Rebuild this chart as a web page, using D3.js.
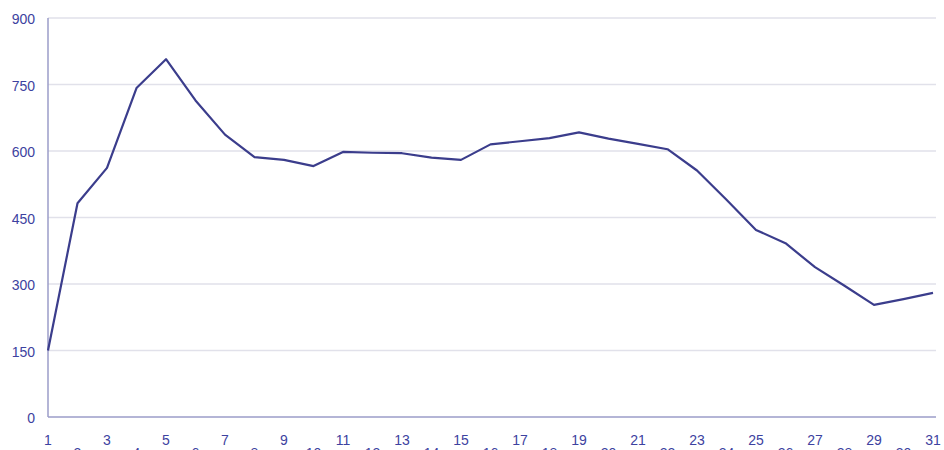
<!DOCTYPE html>
<html>
<head>
<meta charset="utf-8">
<script src="https://cdn.jsdelivr.net/npm/d3@7"></script>
<style>
  body { margin: 0; background: #fff; }
  svg { display: block; }
  text { font-family: "Liberation Sans", Arial, sans-serif; font-size: 14px; fill: #3d42a0; }
</style>
</head>
<body>
<svg id="chart" width="944" height="450"></svg>
<script>
// days of the month and the daily values
var days = d3.range(1, 32);
var values = [150, 482, 562, 742, 807, 714, 637, 586, 580, 566,
              598, 596, 595, 585, 580, 615, 622, 629, 642, 628,
              616, 604, 556, 490, 422, 392, 338, 296, 253, 266, 280];
var yTicks = [0, 150, 300, 450, 600, 750, 900];

var svg = d3.select('#chart');
var plotLeft = 48, plotRight = 936, plotTop = 18, plotBottom = 417;

var x = d3.scaleLinear().domain([1, 31]).range([plotLeft, 933]);
var y = d3.scaleLinear().domain([0, 900]).range([plotBottom, plotTop]);

// gridlines
svg.append('g')
    .selectAll('line')
    .data(yTicks.filter(function (d) { return d > 0; }))
    .enter().append('line')
    .attr('x1', plotLeft).attr('x2', plotRight)
    .attr('y1', function (d) { return y(d); })
    .attr('y2', function (d) { return y(d); })
    .attr('stroke', '#e1e1ea')
    .attr('stroke-width', 1.5);

// y labels
svg.append('g')
    .selectAll('text')
    .data(yTicks)
    .enter().append('text')
    .attr('x', 35)
    .attr('y', function (d) { return y(d) + 6; })
    .attr('text-anchor', 'end')
    .text(function (d) { return d; });

// x labels, odd on the first row, even on a second row (cut by the frame)
svg.append('g')
    .selectAll('text')
    .data(days)
    .enter().append('text')
    .attr('x', function (d) { return x(d); })
    .attr('y', function (d) { return d % 2 ? 445 : 458; })
    .attr('text-anchor', 'middle')
    .text(function (d) { return d; });

// axes
svg.append('line')
    .attr('x1', plotLeft).attr('x2', plotLeft)
    .attr('y1', plotTop).attr('y2', plotBottom)
    .attr('stroke', '#9b9dc9').attr('stroke-width', 1.5);
svg.append('line')
    .attr('x1', plotLeft).attr('x2', plotRight)
    .attr('y1', plotBottom).attr('y2', plotBottom)
    .attr('stroke', '#9b9dc9').attr('stroke-width', 1.5);

// the series
var line = d3.line()
    .x(function (d, i) { return x(days[i]); })
    .y(function (d) { return y(d); });

svg.append('path')
    .datum(values)
    .attr('d', line)
    .attr('fill', 'none')
    .attr('stroke', '#3b3d8c')
    .attr('stroke-width', 2.2)
    .attr('stroke-linejoin', 'round');
</script>
</body>
</html>
